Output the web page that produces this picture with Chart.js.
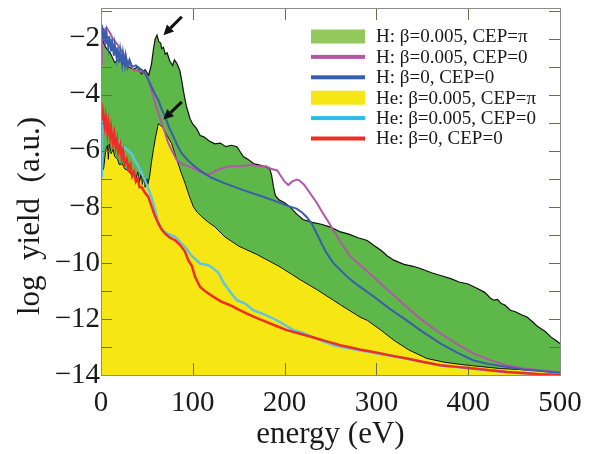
<!DOCTYPE html>
<html>
<head>
<meta charset="utf-8">
<script src="https://cdn.jsdelivr.net/npm/chart.js@4.4.0/dist/chart.umd.min.js"></script>
<style>
  html, body { margin: 0; padding: 0; background: #fff; }
  canvas { display: block; }
</style>
</head>
<body>
<canvas id="myChart" width="590" height="454"></canvas>
<script>
// tick labels
const energyTicks = [0, 100, 200, 300, 400, 500];
const yieldTicks = [-14, -12, -10, -8, -6, -4, -2];

// H: beta=0.005, CEP=pi (green fill)
const hPiE = [0, 5, 10, 15, 20, 25, 30, 35, 40, 44, 48, 52, 55, 57, 59, 61, 63, 65, 66, 68, 70, 72, 75, 78, 80, 83, 86, 88, 90, 93, 97, 100, 104, 108, 112, 118, 124, 130, 136, 142, 148, 152, 155, 160, 166, 172, 178, 184, 186, 188, 190, 194, 200, 206, 213, 220, 230, 240, 250, 260, 270, 280, 290, 297, 305, 312, 319, 330, 340, 348, 360, 370, 381, 390, 400, 410, 418, 424, 428, 432, 436, 440, 446, 452, 458, 464, 470, 475, 479, 484, 490, 495, 500];
const hPiY = [-1.9, -2.3, -2.5, -2.85, -2.7, -2.9, -3.0, -3.1, -3.0, -3.25, -3.1, -3.3, -2.9, -2.4, -2.0, -1.87, -2.1, -2.15, -2.35, -2.3, -2.55, -2.5, -2.8, -2.95, -2.75, -2.9, -3.15, -3.5, -3.9, -4.4, -4.85, -5.05, -5.2, -5.45, -5.5, -5.65, -5.75, -5.72, -5.85, -5.8, -5.85, -6.05, -6.2, -6.3, -6.45, -6.5, -6.55, -6.65, -6.9, -7.3, -7.6, -7.75, -7.85, -8.0, -8.25, -8.45, -8.55, -8.62, -8.72, -8.88, -8.97, -9.1, -9.2, -9.37, -9.55, -9.75, -9.9, -10.05, -10.12, -10.2, -10.35, -10.45, -10.56, -10.68, -10.75, -10.91, -11.05, -11.25, -11.33, -11.3, -11.45, -11.5, -11.69, -11.75, -11.85, -11.93, -12.1, -12.25, -12.34, -12.45, -12.64, -12.75, -12.88];

// H: beta=0.005, CEP=0 (magenta)
const hBeE = [0, 1, 3, 6, 10, 13, 17, 20, 24, 28, 32, 35, 40, 46, 49, 52, 54, 57, 60, 62.5, 66, 70, 73, 77, 82.5, 90, 97, 105, 115, 120, 126, 134, 141, 150, 162.5, 172, 180, 186, 192, 195, 200, 204, 208, 213, 216, 221, 228, 235, 242, 248, 253, 260, 271, 283, 297, 315, 333, 350, 370, 388, 406, 424, 442, 460, 479, 500];
const hBeY = [-2.9, -1.6, -1.7, -1.6, -1.8, -2.0, -2.16, -2.3, -2.5, -2.76, -2.95, -3.12, -3.15, -3.18, -3.3, -3.48, -3.75, -4.07, -4.4, -4.66, -5.0, -5.38, -5.7, -5.97, -6.33, -6.5, -6.57, -6.7, -6.85, -6.8, -6.7, -6.6, -6.55, -6.55, -6.5, -6.55, -6.55, -6.65, -6.7, -6.85, -7.1, -7.22, -7.1, -7.02, -7.05, -7.2, -7.52, -7.85, -8.24, -8.55, -8.83, -9.2, -9.75, -10.1, -10.5, -11.05, -11.57, -12.05, -12.52, -12.9, -13.24, -13.47, -13.65, -13.76, -13.83, -13.9];

// H: beta=0, CEP=0 (blue)
const hZeE = [0, 1, 2, 3, 4, 5, 6, 8, 9, 11, 12, 14, 15, 17, 18, 20, 21, 23, 24, 26, 27, 29, 31, 34, 38, 42, 46, 50, 55, 58.5, 62.5, 66, 70, 74, 79, 83, 88, 95, 102.5, 110, 120, 135, 155, 175, 192, 205, 213, 219, 224, 230, 235, 241, 246, 253, 261, 270, 280, 297, 315, 333, 350, 370, 388, 406, 424, 442, 460, 479, 500];
const hZeY = [-1.5, -2.0, -1.6, -2.1, -1.7, -2.2, -1.8, -2.3, -1.9, -2.45, -2.0, -2.6, -2.2, -2.7, -2.3, -2.85, -2.4, -2.9, -2.5, -2.95, -2.6, -3.0, -2.75, -3.0, -2.95, -3.05, -3.15, -3.35, -3.71, -3.95, -4.19, -4.5, -4.79, -5.15, -5.5, -5.8, -6.09, -6.35, -6.57, -6.75, -6.95, -7.16, -7.4, -7.62, -7.82, -7.98, -8.06, -8.2, -8.36, -8.62, -8.95, -9.35, -9.66, -10.0, -10.26, -10.55, -10.8, -11.2, -11.65, -12.05, -12.45, -12.88, -13.2, -13.48, -13.62, -13.71, -13.8, -13.86, -13.93];

// He: beta=0.005, CEP=pi (yellow fill)
const hePiE = [0, 3, 5, 7, 8, 9, 11, 13, 15, 18, 20, 23, 26, 30, 33, 36, 38, 40, 42, 44, 45, 47, 48, 50, 51, 53, 55, 57, 59.5, 62.5, 65, 68, 72, 77, 80, 83, 87, 91.6, 96, 100.7, 105, 110, 117, 124, 135, 150, 170, 195, 217, 236, 253, 261, 282, 290, 305, 319, 335, 355, 375, 399, 435, 471, 500];
const hePiY = [-6.85, -6.6, -6.0, -5.8, -6.3, -5.75, -6.1, -5.95, -6.2, -6.3, -6.5, -6.45, -6.65, -6.7, -6.85, -6.8, -7.0, -6.75, -7.1, -6.8, -7.2, -6.9, -7.3, -7.0, -7.2, -6.9, -6.4, -5.97, -5.5, -5.02, -5.1, -5.2, -5.45, -5.74, -6.05, -6.35, -6.75, -7.16, -7.6, -8.0, -8.2, -8.36, -8.55, -8.71, -9.07, -9.4, -9.7, -10.14, -10.6, -10.97, -11.33, -11.5, -11.93, -12.05, -12.4, -12.76, -13.1, -13.41, -13.55, -13.65, -13.77, -13.83, -13.9];

// He: beta=0.005, CEP=0 (cyan)
const heBeE = [0, 1, 2, 4.4, 8, 11.7, 15.3, 18.9, 22, 26, 30, 33.5, 37, 40.7, 44.4, 48, 51.6, 55, 59, 62.5, 66, 71.6, 80.7, 86, 91.6, 98.9, 108, 117, 122.5, 128, 133.4, 140, 148, 157, 166, 175, 184.3, 195, 202, 209.7, 220, 231.5, 242, 253.3, 275, 300, 333, 370, 406, 442, 479, 500];
const heBeY = [-6.9, -5.5, -4.6, -4.8, -5.05, -5.3, -5.5, -5.65, -5.8, -5.9, -6.0, -6.12, -6.35, -6.55, -6.8, -7.05, -7.35, -7.65, -8.12, -8.6, -8.8, -8.95, -9.07, -9.25, -9.43, -9.75, -10.02, -10.08, -10.2, -10.35, -10.7, -11.0, -11.33, -11.45, -11.69, -11.8, -11.93, -12.11, -12.25, -12.4, -12.5, -12.66, -12.8, -12.94, -13.08, -13.22, -13.42, -13.66, -13.78, -13.9, -13.98, -14.0];

// He: beta=0, CEP=0 (red)
const heZeE = [0, 1, 2, 4, 5, 7, 8, 10, 11, 13, 14.5, 16, 17.5, 19, 21, 22.6, 24, 26, 28, 30, 32, 34, 36, 38, 40, 42, 44.4, 48, 51.6, 55.3, 58.5, 62.5, 66, 69.8, 75, 80.7, 86, 91.6, 95, 98.9, 102.5, 108, 115, 122.5, 131, 140.7, 150, 158.9, 170, 180.7, 191, 202.5, 217, 231.5, 246, 260.6, 282, 297, 315, 333.4, 350, 369.7, 388, 406, 424, 442.4, 460, 478.7, 500];
const heZeY = [-4.5, -4.9, -4.6, -5.1, -4.8, -5.35, -5.0, -5.5, -5.2, -5.7, -5.4, -5.85, -5.6, -6.05, -5.8, -6.25, -6.0, -6.45, -6.3, -6.65, -6.5, -6.9, -6.75, -7.1, -7.0, -7.3, -7.3, -7.5, -7.64, -8.0, -8.3, -8.59, -8.8, -8.95, -9.1, -9.19, -9.35, -9.6, -9.9, -10.1, -10.5, -10.86, -11.05, -11.21, -11.38, -11.51, -11.67, -11.81, -11.97, -12.11, -12.25, -12.4, -12.53, -12.66, -12.8, -12.94, -13.09, -13.18, -13.3, -13.41, -13.53, -13.65, -13.71, -13.77, -13.83, -13.89, -13.93, -13.97, -14.0];

// arrows: [tailX, tailY, tipX, tipY]
const arrows = [[88, -1.21, 68, -1.87], [88, -4.25, 68, -4.88]];

const pts = (xs, ys) => xs.map((x, i) => ({x: x, y: ys[i]}));
const serif = '"Liberation Serif", "Times New Roman", serif';

const data = {
	datasets: [{
		label: 'H: \u03b2=0.005, CEP=\u03c0',
		data: pts(hPiE, hPiY),
		borderColor: '#111',
		borderWidth: 1.2,
		backgroundColor: '#5db849',
		fill: 'start',
		order: 10,
		legendColor: '#93c85d',
		legendFill: true
	}, {
		label: 'H: \u03b2=0.005, CEP=0',
		data: pts(hBeE, hBeY),
		borderColor: '#b457a9',
		borderWidth: 2,
		fill: false,
		order: 5
	}, {
		label: 'H: \u03b2=0, CEP=0',
		data: pts(hZeE, hZeY),
		borderColor: '#3a5dac',
		borderWidth: 2,
		fill: false,
		order: 4
	}, {
		label: 'He: \u03b2=0.005, CEP=\u03c0',
		data: pts(hePiE, hePiY),
		borderColor: '#111',
		borderWidth: 1,
		backgroundColor: '#f6e714',
		fill: 'start',
		order: 9,
		legendColor: '#f6e714',
		legendFill: true
	}, {
		label: 'He: \u03b2=0.005, CEP=0',
		data: pts(heBeE, heBeY),
		borderColor: '#62c5df',
		borderWidth: 2.5,
		fill: false,
		order: 3,
		legendColor: '#27bdec'
	}, {
		label: 'He: \u03b2=0, CEP=0',
		data: pts(heZeE, heZeY),
		borderColor: '#ee2e24',
		borderWidth: 2.5,
		fill: false,
		order: 2
	}]
};

// frame, inward ticks, axis titles, arrows and legend
const decor = {
	id: 'decor',
	afterDatasetsDraw: (chart) => {
		const ctx = chart.ctx, a = chart.chartArea;
		const xs = chart.scales.x, ys = chart.scales.y;
		ctx.save();
		// ticks
		ctx.strokeStyle = '#6b6b5a';
		ctx.lineWidth = 1;
		ctx.beginPath();
		for (let v = -14; v <= -1; v++) {
			const py = Math.round(ys.getPixelForValue(v)) + 0.5;
			ctx.moveTo(a.left, py); ctx.lineTo(a.left + 11, py);
			ctx.moveTo(a.right, py); ctx.lineTo(a.right - 11, py);
		}
		energyTicks.forEach(v => {
			const px = Math.round(xs.getPixelForValue(v)) + 0.5;
			ctx.moveTo(px, a.bottom); ctx.lineTo(px, a.bottom - 12);
			ctx.moveTo(px, a.top); ctx.lineTo(px, a.top + 12);
		});
		ctx.stroke();
		// frame
		ctx.strokeStyle = '#8c8c8c';
		ctx.strokeRect(a.left + 0.5, a.top + 0.5, a.right - a.left, a.bottom - a.top);

		// arrows
		ctx.strokeStyle = '#111';
		ctx.fillStyle = '#111';
		arrows.forEach(ar => {
			const x0 = xs.getPixelForValue(ar[0]), y0 = ys.getPixelForValue(ar[1]);
			const x1 = xs.getPixelForValue(ar[2]), y1 = ys.getPixelForValue(ar[3]);
			const ang = Math.atan2(y1 - y0, x1 - x0);
			const hl = 10, hw = 5;
			const bx = x1 - hl * Math.cos(ang), by = y1 - hl * Math.sin(ang);
			ctx.lineWidth = 3;
			ctx.beginPath(); ctx.moveTo(x0, y0); ctx.lineTo(bx, by); ctx.stroke();
			ctx.beginPath();
			ctx.moveTo(x1, y1);
			ctx.lineTo(bx + hw * Math.sin(ang), by - hw * Math.cos(ang));
			ctx.lineTo(bx - hw * Math.sin(ang), by + hw * Math.cos(ang));
			ctx.closePath(); ctx.fill();
		});

		// legend
		ctx.font = '19px ' + serif;
		ctx.textBaseline = 'middle';
		ctx.textAlign = 'left';
		chart.data.datasets.forEach((ds, i) => {
			const cy = a.top + 28.5 + i * 20.4;
			const sx = a.left + 210;
			ctx.fillStyle = ds.legendColor || ds.borderColor;
			if (ds.legendFill) ctx.fillRect(sx, cy - 7, 54, 14);
			else ctx.fillRect(sx, cy - 2, 54, 4);
			ctx.fillStyle = '#1a1a1a';
			ctx.fillText(ds.label, sx + 65, cy + 1);
		});

		// axis titles
		ctx.fillStyle = '#1a1a1a';
		ctx.font = '31px ' + serif;
		ctx.textAlign = 'center';
		ctx.textBaseline = 'alphabetic';
		ctx.fillText('energy (eV)', (a.left + a.right) / 2, 443);
		ctx.translate(39, 216);
		ctx.rotate(-Math.PI / 2);
		ctx.fillText('log  yield  (a.u.)', 0, 0);
		ctx.restore();
	}
};

const config = {
	type: 'line',
	data: data,
	plugins: [decor],
	options: {
		responsive: false,
		animation: false,
		devicePixelRatio: 1,
		layout: { padding: { top: 8, right: 30, left: 0, bottom: 0 } },
		elements: { point: { radius: 0 }, line: { tension: 0 } },
		plugins: {
			legend: { display: false },
			tooltip: { enabled: false }
		},
		scales: {
			x: {
				type: 'linear',
				min: 0,
				max: 500,
				afterBuildTicks: s => { s.ticks = energyTicks.map(v => ({value: v})); },
				afterFit: s => { s.height = 79; s.paddingLeft = 0; s.paddingRight = 0; },
				grid: { display: false, drawTicks: false },
				border: { display: false },
				ticks: { color: '#1a1a1a', font: { family: serif, size: 29 }, padding: 11, maxRotation: 0 }
			},
			y: {
				min: -14,
				max: -0.9,
				afterBuildTicks: s => { s.ticks = yieldTicks.map(v => ({value: v})); },
				afterFit: s => { s.width = 101; s.paddingTop = 0; s.paddingBottom = 0; },
				grid: { display: false, drawTicks: false },
				border: { display: false },
				ticks: {
					color: '#1a1a1a',
					font: { family: serif, size: 29 },
					padding: 1,
					callback: v => v < 0 ? '\u2212' + Math.abs(v) : String(v)
				}
			}
		}
	}
};

const myChart = new Chart(document.getElementById('myChart'), config);
</script>
</body>
</html>
